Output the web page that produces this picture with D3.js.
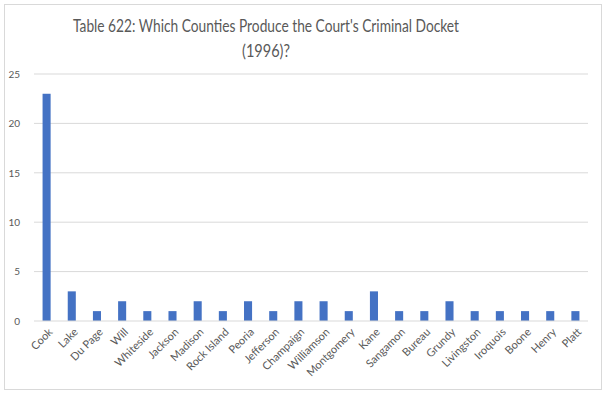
<!DOCTYPE html>
<html lang="en">
<head>
  <meta charset="UTF-8">
  <title>Table 622</title>
  <script src="https://d3js.org/d3.v7.min.js"></script>
  <style>
    body { margin: 0; background: #fff; }
    text { font-family: Lato, "Open Sans", sans-serif; fill: #595959; }
  </style>
</head>
<body>
  <svg width="607" height="395" id="chart"></svg>
  <script>
    const counties = ["Cook", "Lake", "Du Page", "Will", "Whiteside", "Jackson", "Madison", "Rock Island",
      "Peoria", "Jefferson", "Champaign", "Williamson", "Montgomery", "Kane", "Sangamon", "Bureau",
      "Grundy", "Livingston", "Iroquois", "Boone", "Henry", "Platt"];
    const cases = [23, 3, 1, 2, 1, 1, 2, 1, 2, 1, 2, 2, 1, 3, 1, 1, 2, 1, 1, 1, 1, 1];
    const yTicks = [0, 5, 10, 15, 20, 25];
    const titleLines = ["Table 622: Which Counties Produce the Court's Criminal Docket", "(1996)?"];

    const data = counties.map((c, i) => ({ county: c, value: cases[i] }));

    const svg = d3.select("#chart");
    const margin = { top: 74, right: 19, bottom: 74, left: 34 };
    const width = 607 - margin.left - margin.right;
    const height = 395 - margin.top - margin.bottom;

    // chart frame
    svg.append("rect")
      .attr("x", 4.5).attr("y", 4.5)
      .attr("width", 597).attr("height", 385)
      .attr("fill", "#fff")
      .attr("stroke", "#d9d9d9");

    // title, squeezed a bit to mimic Calibri's narrow letters
    svg.selectAll(".title")
      .data(titleLines)
      .join("text")
      .attr("class", "title")
      .attr("text-anchor", "middle")
      .attr("font-size", "16.5px")
      .attr("x", 266)
      .attr("y", (d, i) => 32 + i * 25)
      .attr("textLength", (d, i) => i === 0 ? 386 : 48)
      .attr("lengthAdjust", "spacingAndGlyphs")
      .text(d => d);

    const g = svg.append("g").attr("transform", `translate(${margin.left},${margin.top})`);

    const x = d3.scaleBand().domain(counties).range([0, width]).paddingInner(0.68).paddingOuter(0.34);
    const y = d3.scaleLinear().domain([0, 25]).range([height, 0]);

    // gridlines
    g.append("g")
      .selectAll("line")
      .data(yTicks.filter(d => d > 0))
      .join("line")
      .attr("x1", 0).attr("x2", width)
      .attr("y1", d => y(d)).attr("y2", d => y(d))
      .attr("stroke", "#d9d9d9");

    const yAxis = g.append("g")
      .call(d3.axisLeft(y).tickValues(yTicks).tickSize(0).tickPadding(14));
    yAxis.select(".domain").remove();
    yAxis.selectAll("text").attr("font-size", "10px").attr("fill", "#595959")
      .style("font-family", "Lato, sans-serif");

    g.selectAll(".bar")
      .data(data)
      .join("rect")
      .attr("class", "bar")
      .attr("x", d => x(d.county))
      .attr("y", d => y(d.value))
      .attr("width", x.bandwidth())
      .attr("height", d => height - y(d.value))
      .attr("fill", "#4472c4");

    // x axis line
    g.append("line")
      .attr("x1", 0).attr("x2", width)
      .attr("y1", height).attr("y2", height)
      .attr("stroke", "#d9d9d9");

    g.selectAll(".xlabel")
      .data(counties)
      .join("text")
      .attr("class", "xlabel")
      .attr("font-size", "11px")
      .attr("text-anchor", "end")
      .attr("transform", d => `translate(${x(d) + x.bandwidth() / 2 + 4},${height + 9}) rotate(-45)`)
      .attr("dy", "0.35em")
      .text(d => d);
  </script>
</body>
</html>
